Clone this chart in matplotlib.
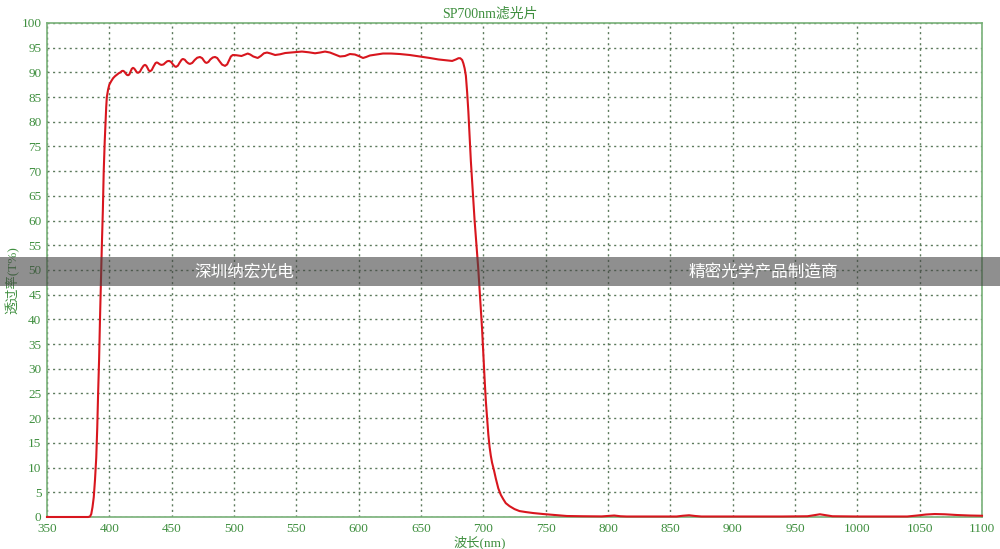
import matplotlib
matplotlib.use("Agg")
import matplotlib.pyplot as plt
from matplotlib.patches import Rectangle

# transmission curve (wavelength nm, T %)
wavelength = [350, 370, 383, 384.5, 385.5, 386.5, 387.5, 388.5, 389.5, 390.3, 391, 391.8,
              392.5, 393.3, 394, 394.8, 395.5, 396.3, 397, 397.5, 398, 399, 400, 401.5,
              403, 404.5, 406, 407.5,
              409, 410, 411, 412, 413, 414, 415, 416, 417, 418, 419, 420, 421, 422, 423,
              424.5, 426, 427.5, 428.6, 429.6, 430.6, 431.6, 432.6, 434, 435.5, 437, 438,
              439, 440, 441, 442, 443.5, 445, 446.5, 448, 449.5, 451, 452.5, 453.5, 455,
              456.5, 458, 459, 460.5, 462, 463.5, 464.7, 466.5, 468.5, 470.5, 472.7, 474.5,
              476, 477, 478, 479.5, 481, 483, 484.8, 486.5, 488.5, 490.5, 492.8, 494.5,
              496, 497.5, 499,
              502, 506, 508.5, 511, 513, 515.5, 519, 521.5, 524, 526.5, 529.5, 533, 537,
              541, 546, 550, 554.5, 560, 565, 569, 573, 577, 581, 585, 589, 593, 597, 600,
              603.5, 606, 609, 614, 619.5, 626, 633, 641, 649, 657, 664, 671, 675, 678,
              680, 681.5, 683, 684, 685, 686, 687, 688, 689, 690, 691.5, 693, 694.5, 696,
              697.5, 699, 700, 701, 702, 703, 704, 705, 706, 707, 708.5, 710, 712, 714, 716,
              718, 721, 725, 729, 734, 740, 748, 755, 760, 767, 780, 795, 800, 805, 810,
              815, 830, 855, 860, 865, 870, 875, 900, 940, 960, 966, 970, 975, 980, 1000,
              1040, 1048, 1055, 1062, 1070, 1080, 1090, 1100]
transmission = [0, 0, 0, 0.1, 0.6, 2.0, 4, 7.5, 12, 18, 25, 32,
                40, 48, 55, 62, 70, 76, 80, 83, 85, 86.5, 87.5, 88.2,
                88.8, 89.2, 89.5, 89.8,
                90.0, 90.25, 90.3, 90.15, 89.8, 89.5, 89.4, 89.55, 90.1, 90.7, 90.9, 90.75, 90.4, 90.0, 89.9,
                90.1, 90.8, 91.35, 91.5, 91.35, 90.9, 90.4, 90.2, 90.45, 91.2, 91.85, 92.0,
                91.9, 91.7, 91.55, 91.5, 91.6, 91.95, 92.25, 92.3, 92.1, 91.6, 91.2, 91.1, 91.35,
                92.0, 92.55, 92.7, 92.55, 92.1, 91.8, 91.7, 91.9, 92.5, 92.95, 93.1, 92.85,
                92.3, 92.0, 91.9, 92.1, 92.6, 93.0, 93.1, 92.9, 92.2, 91.55, 91.3, 91.6,
                92.4, 93.2, 93.5,
                93.45, 93.3, 93.55, 93.8, 93.6, 93.2, 92.9, 93.3, 93.85, 94.0, 93.8, 93.5, 93.65,
                93.9, 94.0, 94.1, 94.2, 94.05, 93.85, 94.0, 94.2, 94.0, 93.6, 93.2, 93.3, 93.7, 93.6, 93.3,
                92.9, 93.1, 93.4, 93.6, 93.8, 93.8, 93.7, 93.5, 93.2, 92.9, 92.6, 92.4, 92.3, 92.6,
                92.85, 92.85, 92.5, 91.8, 90.8, 89.3, 86, 82, 77, 72, 66, 60, 55, 50,
                44, 38, 33, 28, 23.5, 20, 16.7, 14.2, 12.4, 11, 9.5, 7.8, 5.8, 4.5, 3.6,
                2.8, 2.2, 1.6, 1.2, 1.0, 0.8, 0.6, 0.45, 0.35, 0.2, 0.15, 0.12, 0.2, 0.3, 0.15,
                0.1, 0.1, 0.1, 0.25, 0.35, 0.2, 0.1, 0.1, 0.1, 0.15, 0.4, 0.55, 0.35, 0.15, 0.1,
                0.1, 0.3, 0.5, 0.6, 0.55, 0.4, 0.3, 0.25]

x_ticks = list(range(350, 1101, 50))
y_ticks = list(range(0, 101, 5))

title = "SP700nm滤光片"
x_label = "波长(nm)"
y_label = "透过率(T%)"
band_left = "深圳纳宏光电"
band_right = "精密光学产品制造商"

green = "#3f8f3f"
serif = ["Liberation Serif", "Noto Sans CJK SC"]

fig = plt.figure(figsize=(10, 5.49), dpi=100)
ax = fig.add_axes([0.047, 0.0583, 0.935, 0.9])

ax.plot(wavelength, transmission, color="#d8161e", lw=1.5, zorder=5, clip_on=False)

ax.set_xlim(350, 1100)
ax.set_ylim(0, 100)
ax.set_xticks(x_ticks)
ax.set_yticks(y_ticks)
ax.grid(True, linestyle=(0, (1.5, 2.5)), color="#5c7a5c", lw=1.0)
ax.tick_params(length=0, colors=green, labelsize=9.5, pad=4)
for lab in ax.get_xticklabels() + ax.get_yticklabels():
    lab.set_family(serif)
for s in ax.spines.values():
    s.set_color("#78b078")
    s.set_linewidth(1.2)

fig.text(0.49, 0.975, title, ha="center", va="center", color=green, fontsize=10, family=serif)
fig.text(0.48, 0.012, x_label, ha="center", va="center", color=green, fontsize=9.5, family=serif)
fig.text(0.012, 0.49, y_label, ha="center", va="center", rotation=90, color=green,
         fontsize=9.5, family=serif)

# semi transparent grey watermark band
fig.patches.append(Rectangle((0, 0.479), 1, 0.052, transform=fig.transFigure,
                             facecolor="#444444", alpha=0.6, edgecolor="none", zorder=10))
fig.text(0.244, 0.505, band_left, ha="center", va="center", color="white", fontsize=12,
         family=["Noto Sans CJK SC"], zorder=11)
fig.text(0.763, 0.505, band_right, ha="center", va="center", color="white", fontsize=12,
         family=["Noto Sans CJK SC"], zorder=11)

fig.savefig("out.png", dpi=100)
